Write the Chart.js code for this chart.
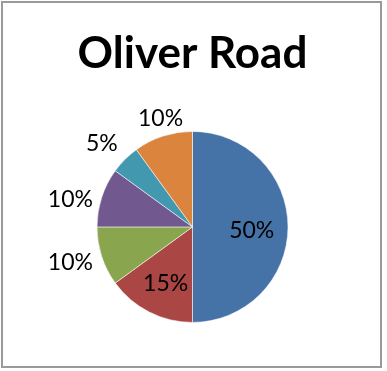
<!DOCTYPE html>
<html>
<head>
<meta charset="utf-8">
<script src="https://cdn.jsdelivr.net/npm/chart.js@4/dist/chart.umd.min.js"></script>
<style>
  html, body { margin: 0; padding: 0; background: #ffffff; }
  #frame {
    position: absolute; left: 1px; top: 1px;
    width: 381px; height: 367px;
    border: 2px solid #9a9a9a; box-sizing: border-box;
  }
  #wrap { position: absolute; left: 0; top: 0; width: 387px; height: 371px; }
</style>
</head>
<body>
<div id="frame"></div>
<div id="wrap"><canvas id="c" width="387" height="371"></canvas></div>
<script>
// Share of each segment (percent), drawn clockwise from 12 o'clock
const categories = ['A', 'B', 'C', 'D', 'E', 'F'];
const shares = [50, 15, 10, 10, 5, 10];
const sliceColors = ['#4572A7', '#AA4643', '#89A54E', '#71588F', '#4198AF', '#DB843D'];
const chartTitle = 'Oliver Road';

const LABEL_FONT = '23px Lato, "Open Sans", sans-serif';

// Percentage labels: inside large slices, outside-end for small ones
const pieLabels = {
  id: 'pieLabels',
  afterDatasetsDraw(chart) {
    const ctx = chart.ctx;
    const meta = chart.getDatasetMeta(0);
    const total = shares.reduce((a, b) => a + b, 0);
    ctx.save();
    ctx.font = LABEL_FONT;
    ctx.fillStyle = '#000000';
    ctx.textAlign = 'center';
    ctx.textBaseline = 'middle';
    meta.data.forEach((arc, i) => {
      const p = arc.getProps(['x', 'y', 'startAngle', 'endAngle', 'outerRadius'], true);
      const mid = (p.startAngle + p.endAngle) / 2;
      const ux = Math.cos(mid), uy = Math.sin(mid);
      const text = Math.round(shares[i] / total * 100) + '%';
      const span = p.endAngle - p.startAngle;
      let cx, cy;
      if (span > 0.9) {
        const d = p.outerRadius * 0.62;
        cx = p.x + ux * d;
        cy = p.y + uy * d + 4;
      } else {
        const d = p.outerRadius + 6;
        const ax = p.x + ux * d, ay = p.y + uy * d;
        const tw = ctx.measureText(text).width;
        const k = v => Math.sign(v) * Math.min(Math.max((Math.abs(v) - 0.3) / 0.4, 0), 1);
        cx = ax + k(ux) * (tw / 2 + 3);
        cy = ay + k(uy) * 16 + 4;
      }
      ctx.fillText(text, cx, cy);
    });
    ctx.restore();
  }
};

new Chart(document.getElementById('c'), {
  type: 'pie',
  data: {
    labels: categories,
    datasets: [{
      data: shares,
      backgroundColor: sliceColors,
      borderColor: 'rgba(255,255,255,0.55)',
      borderWidth: 1,
      radius: 95.5
    }]
  },
  options: {
    responsive: false,
    animation: false,
    events: [],
    layout: { padding: { left: 0, right: 2, top: 0, bottom: 48 } },
    plugins: {
      legend: { display: false },
      tooltip: { enabled: false },
      title: {
        display: true,
        text: chartTitle,
        color: '#000000',
        font: { family: 'Lato, "Open Sans", sans-serif', size: 44, weight: 'bold', lineHeight: 1.2 },
        padding: { top: 27, bottom: 51 }
      }
    }
  },
  plugins: [pieLabels]
});
</script>
</body>
</html>
